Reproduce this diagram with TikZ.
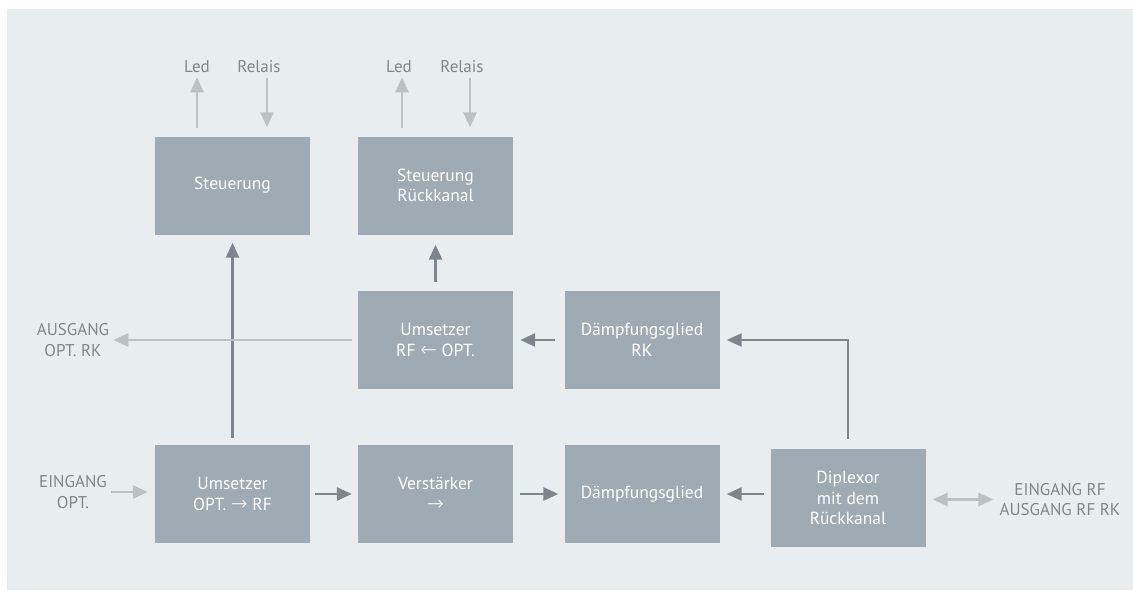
\documentclass[tikz,border=0pt]{standalone}
\usepackage{fontspec}
\setmainfont{PT Sans}
\newfontfamily\arrowfont{DejaVu Sans ExtraLight}
\usetikzlibrary{arrows.meta}

\definecolor{panelgray}{HTML}{E8EDF0}
\definecolor{boxgray}{HTML}{9EABB4}
\definecolor{darkline}{HTML}{7D868C}
\definecolor{lightline}{HTML}{BCC1C5}
\definecolor{labelgray}{HTML}{80878C}

\newcommand{\ra}{{\arrowfont\fontsize{20}{20.5}\selectfont →}}
\newcommand{\la}{{\arrowfont\fontsize{20}{20.5}\selectfont ←}}

\tikzset{
  block/.style={fill=boxgray, text=white, minimum width=155pt, minimum height=98pt,
    align=center, inner sep=0pt, font=\fontsize{17.5}{20.5}\selectfont},
  outlabel/.style={text=labelgray, align=center, inner sep=2pt, font=\fontsize{17}{20.5}\selectfont},
  darkarrow/.style={draw=darkline, line width=2.6pt, -{Triangle[length=15pt,width=13pt]}},
  lightarrow/.style={draw=lightline, line width=2.6pt, -{Triangle[length=15pt,width=13pt]}}
}

\begin{document}
\begin{tikzpicture}[x=1pt, y=-1pt]
    % page and panel
    \useasboundingbox (0,0) rectangle (1133,590);
    \fill[white] (0,0) rectangle (1133,590);
    \fill[panelgray] (7,9) rectangle (1133,590);

    % upper row
    \node[block] (steu) at (232.5,185.5) {Steuerung};
    \node[block] (steurk) at (435.5,185.5) {Steuerung\\Rückkanal};

    % middle row
    \node[block] (ums2) at (435.5,340) {Umsetzer\\RF \la{} OPT.};
    \node[block] (daempfrk) at (642,340) {Dämpfungsglied\\RK};

    % lower row
    \node[block] (ums1) at (232.5,494) {Umsetzer\\OPT. \ra{} RF};
    \node[block] (verst) at (435.5,494) {Verstärker\\\ra};
    \node[block] (daempf) at (642,494) {Dämpfungsglied};
    \node[block] (diplex) at (848,498) {Diplexor\\mit dem\\Rückkanal};

    % outside labels
    \node[outlabel] (led1) at (197,67) {Led};
    \node[outlabel] (rel1) at (259,67) {Relais};
    \node[outlabel] (led2) at (399,67) {Led};
    \node[outlabel] (rel2) at (462,67) {Relais};
    \node[outlabel] (ausg) at (73,340) {AUSGANG\\OPT. RK};
    \node[outlabel] (eing) at (73,492) {EINGANG\\OPT.};
    \node[outlabel] (eingrf) at (1060,499.5) {EINGANG RF\\AUSGANG RF RK};

    % Led / Relais
    \draw[lightarrow, shorten <=8pt, shorten >=2pt] (led1.south |- steu.north) -- (led1.south);
    \draw[lightarrow, shorten <=3pt, shorten >=9pt] ([xshift=8pt]rel1.south) -- ([xshift=8pt]rel1.south |- steu.north);
    \draw[lightarrow, shorten <=8pt, shorten >=2pt] ([xshift=3pt]led2.south |- steurk.north) -- ([xshift=3pt]led2.south);
    \draw[lightarrow, shorten <=3pt, shorten >=9pt] ([xshift=8pt]rel2.south) -- ([xshift=8pt]rel2.south |- steurk.north);

    % signal path
    \draw[darkarrow, shorten <=7pt, shorten >=8pt] (ums1.north) -- (steu.south);
    \draw[darkarrow, shorten <=9pt, shorten >=10pt] (ums2.north) -- (steurk.south);
    \draw[darkarrow, shorten <=5pt, shorten >=6pt] (ums1.east) -- (verst.west);
    \draw[darkarrow, shorten <=7pt, shorten >=6pt] (verst.east) -- (daempf.west);
    \draw[darkarrow, shorten <=6pt, shorten >=7pt] (diplex.west |- daempf.east) -- (daempf.east);
    \draw[darkarrow, shorten <=9pt, shorten >=7pt] (daempfrk.west) -- (ums2.east);
    \draw[darkarrow, shorten <=10pt, shorten >=7pt] (diplex.north) |- (daempfrk.east);

    % inputs and outputs
    \draw[lightarrow, shorten <=6pt, shorten >=2pt] (ums2.west) -- (ausg.east);
    \draw[lightarrow, shorten <=2pt, shorten >=7pt] (eing.east) -- (eing.east -| ums1.west);
    \draw[draw=lightline, line width=2.6pt, {Triangle[length=15pt,width=13pt]}-{Triangle[length=15pt,width=13pt]},
      shorten <=7pt, shorten >=4pt] (diplex.east |- eingrf.west) -- (eingrf.west);
\end{tikzpicture}
\end{document}
